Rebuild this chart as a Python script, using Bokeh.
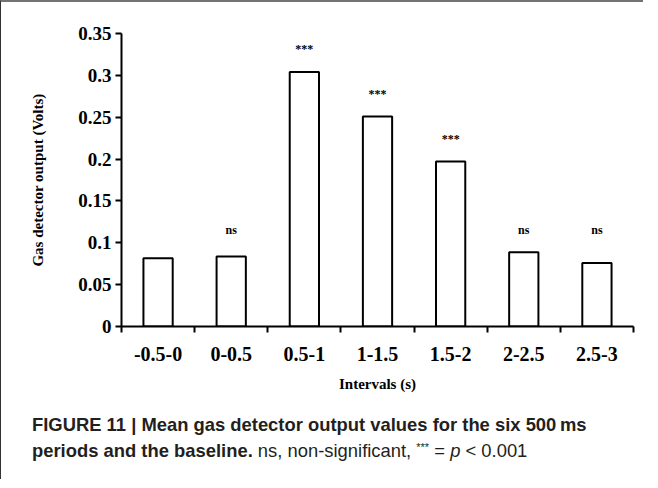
from bokeh.plotting import figure
from bokeh.models import ColumnDataSource, FixedTicker, Range1d, Div
from bokeh.layouts import column
from bokeh.embed import file_html
from bokeh.resources import INLINE
from bokeh.core.properties import value

# ---- data ----
categories = ["-0.5-0", "0-0.5", "0.5-1", "1-1.5", "1.5-2", "2-2.5", "2.5-3"]
mean_output = [0.0815, 0.0835, 0.304, 0.251, 0.197, 0.0887, 0.076]
significance = ["", "ns", "***", "***", "***", "ns", "ns"]
y_ticks = [0, 0.05, 0.1, 0.15, 0.2, 0.25, 0.3, 0.35]
y_tick_labels = ["0", "0.05", "0.1", "0.15", "0.2", "0.25", "0.3", "0.35"]

n = len(categories)
xs = [i + 0.5 for i in range(n)]

# label heights: *** above each bar, ns labels aligned above tallest ns bar
gap = 0.027
ns_top = max(m for m, s in zip(mean_output, significance) if s == "ns")
label_y = [(ns_top + gap) if s == "ns" else (m + gap) for m, s in zip(mean_output, significance)]

src = ColumnDataSource(dict(x=xs, top=mean_output, sig=significance, ly=label_y))

SERIF = "Liberation Serif"

p = figure(width=642, height=405, x_range=Range1d(0, n), y_range=Range1d(0, 0.35),
           output_backend="svg", toolbar_location=None,
           min_border_left=120, min_border_right=10, min_border_top=31, min_border_bottom=81)
p.outline_line_color = None
p.grid.visible = False
p.background_fill_color = "white"
p.border_fill_color = "white"

p.vbar(x="x", top="top", width=0.4, source=src, fill_color="white",
       line_color="black", line_width=2)
p.text(x="x", y="ly", text="sig", source=src, text_align="center", text_baseline="middle",
       text_font=value(SERIF), text_font_style="bold", text_font_size="12px", text_color="black")

# y axis
ya = p.yaxis[0]
ya.ticker = FixedTicker(ticks=y_ticks)
ya.major_label_overrides = {t: l for t, l in zip(y_ticks, y_tick_labels)}
ya.axis_line_width = 2
ya.axis_line_color = "black"
ya.major_tick_line_width = 2
ya.major_tick_line_color = "black"
ya.major_tick_in = 0
ya.major_tick_out = 6
ya.minor_tick_line_color = None
ya.major_label_text_font = SERIF
ya.major_label_text_font_style = "bold"
ya.major_label_text_font_size = "19px"
ya.major_label_text_color = "black"
ya.major_label_standoff = 4
ya.axis_label = "Gas detector output (Volts)"
ya.axis_label_text_font = SERIF
ya.axis_label_text_font_style = "bold"
ya.axis_label_text_font_size = "15px"
ya.axis_label_text_color = "black"
ya.axis_label_standoff = 29

# x axis
xa = p.xaxis[0]
xa.ticker = FixedTicker(ticks=xs, minor_ticks=list(range(n + 1)))
xa.major_label_overrides = {x: c for x, c in zip(xs, categories)}
xa.axis_line_width = 2
xa.axis_line_color = "black"
xa.major_tick_line_color = None
xa.minor_tick_line_width = 2
xa.minor_tick_line_color = "black"
xa.minor_tick_in = 0
xa.minor_tick_out = 6
xa.major_tick_out = 6
xa.major_tick_in = 0
xa.major_label_text_font = SERIF
xa.major_label_text_font_style = "bold"
xa.major_label_text_font_size = "20px"
xa.major_label_text_color = "black"
xa.major_label_standoff = 14
xa.axis_label = "Intervals (s)"
xa.axis_label_text_font = SERIF
xa.axis_label_text_font_style = "bold"
xa.axis_label_text_font_size = "15px"
xa.axis_label_text_color = "black"
xa.axis_label_standoff = 12

caption = Div(
    text=('<b>FIGURE 11 | Mean gas detector output values for the six 500&#8201;ms<br>'
          'periods and the baseline.</b> ns, non-significant, '
          '<span style="font-size:11px; vertical-align:0.55em; line-height:0">***</span> = '
          '<i>p</i> &lt; 0.001'),
    width=630, height=62,
    styles={"font-family": "'Liberation Sans', sans-serif",
            "font-size": "18.4px", "line-height": "26px", "color": "#231f20",
            "padding-left": "26px", "padding-top": "0px"})

layout = column(p, caption, styles={"border-top": "2px solid #737373",
                                    "border-left": "1px solid #333333"})

open("out.html", "w").write(file_html(layout, INLINE))
